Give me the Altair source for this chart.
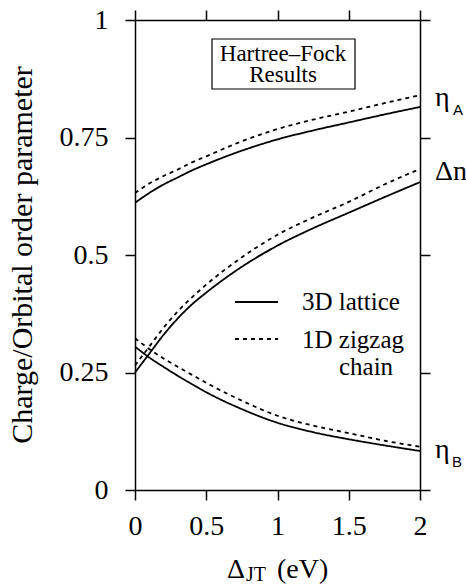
import altair as alt
import pandas as pd

# Data
x_vals = [0, 0.1, 0.2, 0.3, 0.4, 0.5, 0.75, 1, 1.25, 1.5, 1.75, 2]
etaA_3d = [0.611, 0.632, 0.650, 0.665, 0.680, 0.693, 0.722, 0.746, 0.765, 0.782, 0.799, 0.815]
etaA_1d = [0.632, 0.652, 0.668, 0.682, 0.697, 0.710, 0.742, 0.768, 0.788, 0.805, 0.823, 0.840]
dn_3d = [0.250, 0.290, 0.330, 0.365, 0.395, 0.420, 0.475, 0.520, 0.557, 0.590, 0.623, 0.655]
dn_1d = [0.265, 0.305, 0.345, 0.380, 0.410, 0.437, 0.495, 0.543, 0.580, 0.613, 0.650, 0.683]
etaB_3d = [0.305, 0.282, 0.262, 0.243, 0.225, 0.208, 0.172, 0.143, 0.123, 0.108, 0.095, 0.083]
etaB_1d = [0.323, 0.300, 0.280, 0.262, 0.245, 0.228, 0.190, 0.158, 0.137, 0.121, 0.105, 0.092]

x_ticks = [0, 0.5, 1, 1.5, 2]
y_ticks = [0, 0.25, 0.5, 0.75, 1]

models = ["3D lattice", "1D zigzag chain"]
series = {
    ("etaA", models[0]): etaA_3d,
    ("etaA", models[1]): etaA_1d,
    ("dn", models[0]): dn_3d,
    ("dn", models[1]): dn_1d,
    ("etaB", models[0]): etaB_3d,
    ("etaB", models[1]): etaB_1d,
}
rows = []
for (q, m), vals in series.items():
    for xv, yv in zip(x_vals, vals):
        rows.append({"x": xv, "y": yv, "quantity": q, "model": m, "key": q + "|" + m})
df = pd.DataFrame(rows)

FONT = "Liberation Serif"
SANS = "Liberation Sans"
FS = 28

xscale = alt.Scale(domain=[0, 2], nice=False, zero=False)
yscale = alt.Scale(domain=[0, 1], nice=False, zero=False)

axis_common = dict(
    domainColor="black", domainWidth=1.5, tickColor="black", tickWidth=1.5,
    tickSize=10, grid=False, title=None,
)

lines = alt.Chart(df).mark_line(color="black", strokeWidth=1.8, interpolate="monotone").encode(
    x=alt.X("x:Q", scale=xscale, axis=alt.Axis(orient="bottom", values=x_ticks, labelFont=FONT,
            labelFontSize=FS, labelColor="black", labelPadding=12, labelFlush=False,
            labelExpr="datum.value == 0 ? '0' : format(datum.value, '')", **axis_common)),
    y=alt.Y("y:Q", scale=yscale, axis=alt.Axis(orient="left", values=y_ticks, labelFont=FONT,
            labelFontSize=FS, labelColor="black", labelPadding=17, labelFlush=False,
            labelExpr="datum.value == 0 ? '0' : datum.value == 1 ? '1' : format(datum.value, '')",
            **axis_common)),
    detail="key:N",
    strokeDash=alt.StrokeDash("model:N", scale=alt.Scale(domain=models, range=[[1, 0], [4, 4]]), legend=None),
)

ghost = alt.Chart(df).mark_point(opacity=0).encode(
    x=alt.X("x:Q", scale=xscale, axis=alt.Axis(orient="top", values=x_ticks, labels=False, **axis_common)),
    y=alt.Y("y:Q", scale=yscale, axis=alt.Axis(orient="right", values=y_ticks, labels=False, **axis_common)),
)

one = pd.DataFrame({"a": [0]})

def txt(s, x, y, size=FS, font=FONT, align="left", baseline="alphabetic", angle=0):
    return alt.Chart(one).mark_text(text=s, font=font, fontSize=size, align=align,
                                    baseline=baseline, angle=angle, color="black").encode(
        x=alt.value(x), y=alt.value(y))

# Hartree-Fock box
box = alt.Chart(one).mark_rect(fill="white", stroke="black", strokeWidth=1.2).encode(
    x=alt.value(77), x2=alt.value(220), y=alt.value(19), y2=alt.value(69))
hf1 = txt("Hartree\u2013Fock", 148, 41, size=23, align="center")
hf2 = txt("Results", 148, 62, size=23, align="center")

# Legend
leg_solid = alt.Chart(one).mark_rule(color="black", strokeWidth=1.8).encode(
    x=alt.value(100), x2=alt.value(143), y=alt.value(282))
leg_dash = alt.Chart(one).mark_rule(color="black", strokeWidth=1.8, strokeDash=[4, 4]).encode(
    x=alt.value(100), x2=alt.value(143), y=alt.value(319))
leg_t1 = txt("3D lattice", 167, 290, size=25)
leg_t2 = txt("1D zigzag", 167, 328, size=25)
leg_t3 = txt("chain", 231, 355, size=25, align="center")

# Right-side curve labels
etaA1 = txt("\u03b7", 300, 86)
etaA2 = txt("A", 318, 95, size=15, font=SANS)
dnl = txt("\u0394n", 300, 160)
etaB1 = txt("\u03b7", 300, 438)
etaB2 = txt("B", 317, 447, size=15, font=SANS)

# Axis titles
ytitle = txt("Charge/Orbital order parameter", -112, 235, size=30, align="center",
             baseline="middle", angle=270)
xt1 = txt("\u0394", 92, 558)
xt2 = txt("JT", 111, 561, size=20)
xt3 = txt("(eV)", 142, 558)

chart = alt.layer(
    lines, ghost, box, hf1, hf2, leg_solid, leg_dash, leg_t1, leg_t2, leg_t3,
    etaA1, etaA2, dnl, etaB1, etaB2, ytitle, xt1, xt2, xt3,
).resolve_axis(x="independent", y="independent").properties(
    width=285, height=470,
    autosize=alt.AutoSizeParams(type="none"),
    padding={"left": 135, "top": 20, "right": 46, "bottom": 96},
    background="white",
).configure_view(stroke=None).configure_axis(labelFont=FONT)

chart.save("out.html", embed_options={"renderer": "svg", "actions": False})
